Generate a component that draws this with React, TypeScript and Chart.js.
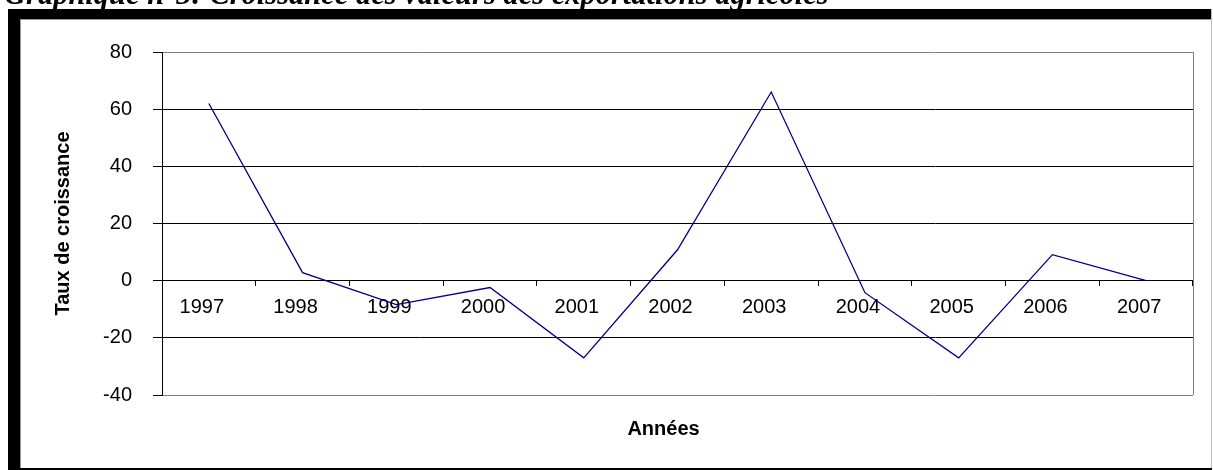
import { useEffect, useRef } from 'react';
import { Chart, registerables } from 'chart.js';

Chart.register(...registerables);

const years = ['1997', '1998', '1999', '2000', '2001', '2002', '2003', '2004', '2005', '2006', '2007'];
const growth = [62, 2.8, -8.4, -2.4, -27, 10.8, 66, -4.2, -27, 9.1, 0];
const yMin = -40;
const yMax = 80;
const yStep = 20;
const chartTitle = 'Graphique n°3: Croissance des valeurs des exportations agricoles';
const yTitle = 'Taux de croissance';
const xTitle = 'Années';

const SANS = "'Liberation Sans', Arial, sans-serif";
const SERIF = "'Liberation Serif', 'Times New Roman', serif";

export default function App() {
  const ref = useRef<HTMLCanvasElement>(null);

  useEffect(() => {
    if (!ref.current) return;
    const decor = {
      id: 'decor',
      afterDraw(chart: any) {
        const { ctx, chartArea: a } = chart;
        ctx.save();
        ctx.strokeStyle = '#808080';
        ctx.lineWidth = 1;
        const rx = Math.round(a.right) + 0.5;
        ctx.beginPath();
        ctx.moveTo(rx, a.top);
        ctx.lineTo(rx, a.bottom);
        ctx.stroke();
        ctx.fillStyle = '#000';
        ctx.font = `bold 20px ${SANS}`;
        ctx.textAlign = 'center';
        ctx.textBaseline = 'middle';
        ctx.fillText(xTitle, (a.left + a.right) / 2 - 14, 429);
        ctx.font = `italic bold 30.5px ${SERIF}`;
        ctx.textAlign = 'left';
        ctx.textBaseline = 'alphabetic';
        ctx.fillText(chartTitle, 4, 4);
        ctx.restore();
      },
    };

    const chart = new Chart(ref.current, {
      type: 'line',
      data: {
        labels: years,
        datasets: [
          {
            data: growth,
            borderColor: '#000080',
            borderWidth: 1.3,
            pointRadius: 0,
            tension: 0,
            fill: false,
          },
        ],
      },
      options: {
        animation: false,
        responsive: false,
        devicePixelRatio: 1,
        layout: { padding: { left: 0, top: 52, right: 20, bottom: 75 } },
        plugins: { legend: { display: false }, tooltip: { enabled: false }, title: { display: false } },
        scales: {
          x: {
            type: 'category',
            position: { y: 0 } as any,
            offset: true,
            grid: {
              offset: true,
              drawOnChartArea: false,
              drawTicks: true,
              tickLength: 5,
              color: '#000',
              tickColor: '#000',
            },
            border: { display: true, color: '#000', width: 1 },
            ticks: {
              font: { family: SANS, size: 20 },
              color: '#000',
              padding: 10,
              labelOffset: -7,
              maxRotation: 0,
              autoSkip: false,
            },
          },
          y: {
            min: yMin,
            max: yMax,
            ticks: { stepSize: yStep, padding: 21, font: { family: SANS, size: 20 }, color: '#000' },
            grid: {
              color: (c: any) =>
                c.tick && (c.tick.value === yMax || c.tick.value === yMin) ? '#808080' : '#000',
              tickColor: '#000',
              tickLength: 9,
            },
            border: { display: true, color: '#000', width: 1 },
            title: {
              display: true,
              text: yTitle,
              color: '#000',
              font: { family: SANS, size: 20, weight: 'bold', lineHeight: 1.2 },
              padding: { top: 51, bottom: 0 },
            },
            afterFit: (s: any) => {
              s.width = 162;
            },
          },
        },
      },
      plugins: [decor],
    });
    return () => chart.destroy();
  }, []);

  const abs = (l: number, t: number, w: number, h: number, bg: string) => ({
    position: 'absolute' as const,
    left: l,
    top: t,
    width: w,
    height: h,
    background: bg,
  });

  return (
    <div style={{ position: 'fixed', left: 0, top: 0, width: 1213, height: 470, overflow: 'hidden', background: '#fff' }}>
      <div style={abs(8, 9, 12, 461, '#000')} />
      <div style={abs(8, 9, 1204, 10, '#000')} />
      <div style={abs(8, 468, 1204, 2, '#000')} />
      <div style={abs(1211, 9, 1, 459, '#c0c0c0')} />
      <div style={abs(20, 19, 1191, 1, '#999')} />
      <div style={abs(20, 19, 1, 449, '#999')} />
      <canvas
        ref={ref}
        width={1213}
        height={470}
        style={{ position: 'absolute', left: 0, top: 0, width: 1213, height: 470 }}
      />
    </div>
  );
}
